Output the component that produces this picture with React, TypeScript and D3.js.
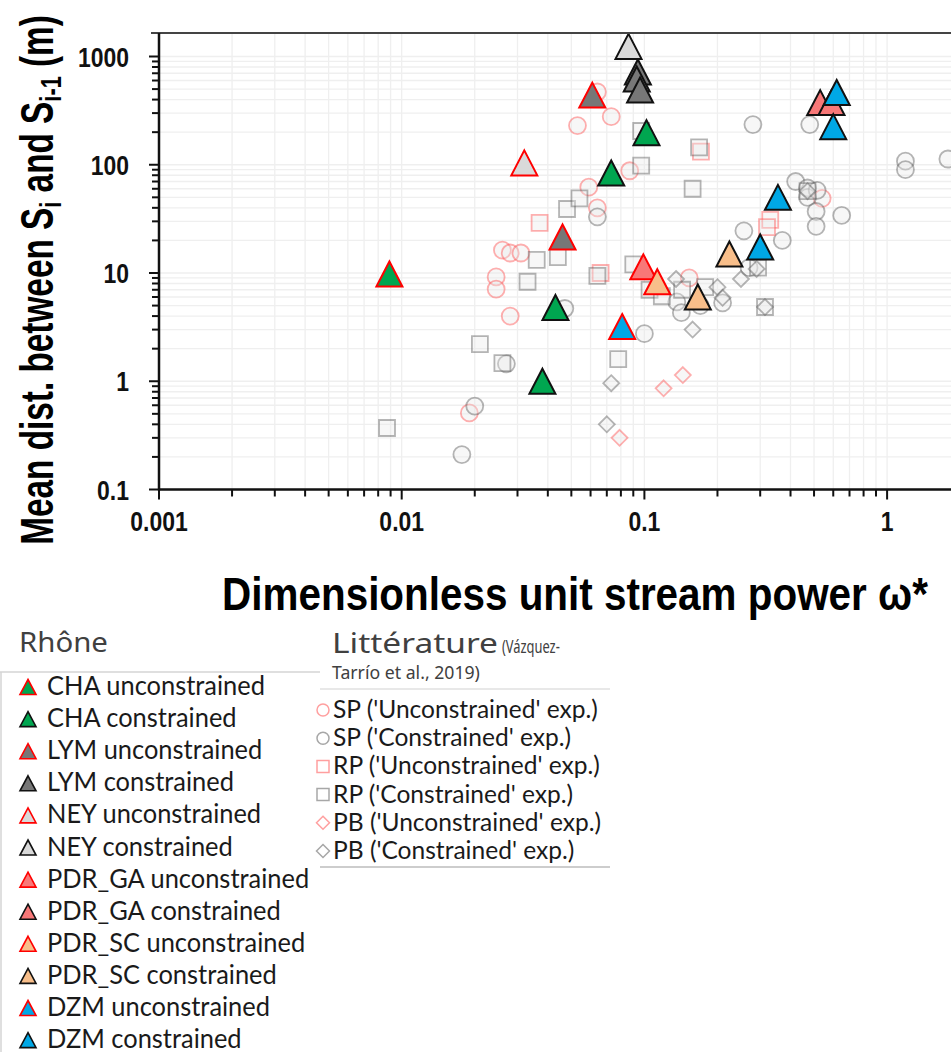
import { useEffect, useRef } from 'react';
import * as d3 from 'd3';

type Pt = [number, number];

// Rhône reaches, [omega*, mean distance (m)]
const CHA_unc: Pt[] = [[0.0089, 9.8]];
const CHA_con: Pt[] = [[0.102, 198], [0.073, 84], [0.043, 4.8], [0.038, 1.0]];
const LYM_unc: Pt[] = [[0.061, 440], [0.046, 21.5]];
const LYM_con: Pt[] = [[0.094, 720], [0.093, 620], [0.096, 490]];
const NEY_unc: Pt[] = [[0.032, 104]];
const NEY_con: Pt[] = [[0.086, 1240]];
const PDRGA_unc: Pt[] = [[0.099, 11.4]];
const PDRGA_con: Pt[] = [[0.53, 375], [0.59, 375]];
const PDRSC_unc: Pt[] = [[0.113, 8.3]];
const PDRSC_con: Pt[] = [[0.166, 6.0], [0.224, 15]];
const DZM_unc: Pt[] = [[0.081, 3.2]];
const DZM_con: Pt[] = [[0.62, 465], [0.6, 225], [0.355, 50], [0.3, 17.4]];

// Littérature (Vázquez-Tarrío et al., 2019)
const SP_unc: Pt[] = [
  [0.064, 470], [0.073, 278], [0.053, 230], [0.087, 88], [0.059, 62], [0.064, 40],
  [0.026, 16.3], [0.028, 15.3], [0.031, 15.3], [0.0245, 9.2], [0.0245, 7.1], [0.028, 4.0],
  [0.019, 0.51], [0.153, 9.0], [0.54, 49],
];
const SP_con: Pt[] = [
  [0.047, 4.7], [0.027, 1.45], [0.02, 0.59], [0.0177, 0.21], [0.1, 2.75], [0.064, 33],
  [0.28, 235], [0.48, 235], [1.19, 108], [1.19, 90], [1.78, 113], [0.42, 70],
  [0.47, 61], [0.47, 50], [0.515, 58], [0.51, 37], [0.65, 34], [0.51, 27],
  [0.257, 24.5], [0.37, 20], [0.136, 5.4], [0.142, 4.3], [0.21, 5.3], [0.17, 5.0], [0.27, 11.2],
];
const RP_unc: Pt[] = [[0.037, 29], [0.066, 10], [0.171, 132], [0.33, 31], [0.32, 26.5]];
const RP_con: Pt[] = [
  [0.0087, 0.37], [0.021, 2.2], [0.026, 1.47], [0.033, 8.3], [0.036, 13.2], [0.044, 14],
  [0.048, 39], [0.054, 49], [0.097, 98], [0.097, 205], [0.064, 9.4], [0.078, 1.6],
  [0.09, 12], [0.168, 145], [0.158, 60], [0.105, 7.0], [0.118, 6.1], [0.143, 7.0],
  [0.178, 7.4], [0.294, 11.2], [0.314, 4.85], [0.47, 57],
];
const PB_unc: Pt[] = [[0.12, 0.86], [0.144, 1.14], [0.079, 0.3]];
const PB_con: Pt[] = [
  [0.073, 0.96], [0.07, 0.4], [0.158, 3.0], [0.135, 8.8], [0.2, 7.4], [0.21, 5.9],
  [0.25, 8.8], [0.29, 10.9], [0.314, 4.85], [0.47, 57],
];

const xTicks = [0.001, 0.01, 0.1, 1];
const xTickLabels = ['0.001', '0.01', '0.1', '1'];
const yTicks = [0.1, 1, 10, 100, 1000];
const yTickLabels = ['0.1', '1', '10', '100', '1000'];

const RED = '#ff0000';
const rhone = [
  { label: 'CHA unconstrained', fill: '#00a650', stroke: RED, pts: CHA_unc },
  { label: 'CHA constrained', fill: '#00a650', stroke: '#111', pts: CHA_con },
  { label: 'LYM unconstrained', fill: '#777777', stroke: RED, pts: LYM_unc },
  { label: 'LYM constrained', fill: '#777777', stroke: '#111', pts: LYM_con },
  { label: 'NEY unconstrained', fill: '#d9d9d9', stroke: RED, pts: NEY_unc },
  { label: 'NEY constrained', fill: '#d9d9d9', stroke: '#111', pts: NEY_con },
  { label: 'PDR_GA unconstrained', fill: '#f87878', stroke: RED, pts: PDRGA_unc },
  { label: 'PDR_GA constrained', fill: '#f87878', stroke: '#111', pts: PDRGA_con },
  { label: 'PDR_SC unconstrained', fill: '#f8be8a', stroke: RED, pts: PDRSC_unc },
  { label: 'PDR_SC constrained', fill: '#f8be8a', stroke: '#111', pts: PDRSC_con },
  { label: 'DZM unconstrained', fill: '#00a8e6', stroke: RED, pts: DZM_unc },
  { label: 'DZM constrained', fill: '#00a8e6', stroke: '#111', pts: DZM_con },
];

const literature = [
  { label: "SP ('Unconstrained' exp.)", shape: 'circle', red: true, pts: SP_unc },
  { label: "SP ('Constrained' exp.)", shape: 'circle', red: false, pts: SP_con },
  { label: "RP ('Unconstrained' exp.)", shape: 'square', red: true, pts: RP_unc },
  { label: "RP ('Constrained' exp.)", shape: 'square', red: false, pts: RP_con },
  { label: "PB ('Unconstrained' exp.)", shape: 'diamond', red: true, pts: PB_unc },
  { label: "PB ('Constrained' exp.)", shape: 'diamond', red: false, pts: PB_con },
];

const W = 951;
const H = 1052;
const L = 159;
const R = 951;
const T = 33;
const B = 489.5;
const AX_FONT = "'Liberation Sans', Arial, sans-serif";
const LEG_FONT = "Lato, 'Open Sans', sans-serif";
const HEAD_FONT = "'Noto Sans', 'Open Sans', sans-serif";

function shapePath(shape: string, cx: number, cy: number, s: number) {
  if (shape === 'circle') {
    return `M${cx - s},${cy}a${s},${s} 0 1,0 ${2 * s},0a${s},${s} 0 1,0 ${-2 * s},0Z`;
  }
  if (shape === 'square') {
    return `M${cx - s},${cy - s}h${2 * s}v${2 * s}h${-2 * s}Z`;
  }
  return `M${cx},${cy - s}L${cx + s},${cy}L${cx},${cy + s}L${cx - s},${cy}Z`;
}

function triPath(cx: number, cy: number, w: number, h: number) {
  return `M${cx},${cy - h / 2}L${cx + w / 2},${cy + h / 2}L${cx - w / 2},${cy + h / 2}Z`;
}

export default function App() {
  const svgRef = useRef<SVGSVGElement | null>(null);

  useEffect(() => {
    if (!svgRef.current) return;
    const svg = d3.select(svgRef.current);
    svg.selectAll('*').remove();

    const x = d3.scaleLog().domain([0.001, 1]).range([L, L + 3 * 242.7]);
    const y = d3.scaleLog().domain([0.1, 1000]).range([B, B - 4 * 108.25]);

    const xMinor: { v: number; major: boolean }[] = [];
    for (let d = -3; d <= 0; d++)
      for (let k = 1; k <= 9; k++) {
        const v = k * Math.pow(10, d);
        if (x(v) <= R + 0.5) xMinor.push({ v, major: k === 1 });
      }
    const yMinor: { v: number; major: boolean }[] = [];
    for (let d = -1; d <= 3; d++)
      for (let k = 1; k <= 9; k++) {
        const v = k * Math.pow(10, d);
        if (y(v) >= T - 0.5) yMinor.push({ v, major: k === 1 });
      }

    const defs = svg.append('defs');
    defs
      .append('clipPath')
      .attr('id', 'plot-clip')
      .append('rect')
      .attr('x', L)
      .attr('y', T)
      .attr('width', R - L)
      .attr('height', B - T);

    // grid
    const grid = svg.append('g').attr('stroke', '#efefef').attr('stroke-width', 1.3);
    grid
      .selectAll('line.v')
      .data(xMinor)
      .enter()
      .append('line')
      .attr('x1', (d) => x(d.v))
      .attr('x2', (d) => x(d.v))
      .attr('y1', T)
      .attr('y2', B);
    grid
      .selectAll('line.h')
      .data(yMinor)
      .enter()
      .append('line')
      .attr('x1', L)
      .attr('x2', R)
      .attr('y1', (d) => y(d.v))
      .attr('y2', (d) => y(d.v));

    // literature markers
    const plot = svg.append('g').attr('clip-path', 'url(#plot-clip)');
    literature.forEach((s) => {
      plot
        .append('g')
        .selectAll('path')
        .data(s.pts)
        .enter()
        .append('path')
        .attr('d', (p) => shapePath(s.shape, x(p[0]), y(p[1]), s.shape === 'circle' ? 8.5 : 8))
        .attr('fill', 'rgba(232,232,232,0.35)')
        .attr('stroke', s.red ? 'rgba(255,80,80,0.45)' : 'rgba(80,80,80,0.42)')
        .attr('stroke-width', 1.8);
    });

    // Rhône triangles
    rhone.forEach((s) => {
      plot
        .append('g')
        .selectAll('path')
        .data(s.pts)
        .enter()
        .append('path')
        .attr('d', (p) => triPath(x(p[0]), y(p[1]), 26, 25))
        .attr('fill', s.fill)
        .attr('stroke', s.stroke)
        .attr('stroke-width', 2);
    });

    // axes
    svg
      .append('line')
      .attr('x1', 151)
      .attr('x2', W)
      .attr('y1', T)
      .attr('y2', T)
      .attr('stroke', '#444')
      .attr('stroke-width', 2);
    svg
      .append('line')
      .attr('x1', L)
      .attr('x2', L)
      .attr('y1', T)
      .attr('y2', B + 1)
      .attr('stroke', '#111')
      .attr('stroke-width', 2.5);
    svg
      .append('line')
      .attr('x1', L - 1)
      .attr('x2', W)
      .attr('y1', B)
      .attr('y2', B)
      .attr('stroke', '#111')
      .attr('stroke-width', 2.5);

    const ticks = svg.append('g').attr('stroke', '#111').attr('stroke-width', 2);
    ticks
      .selectAll('line.xt')
      .data(xMinor)
      .enter()
      .append('line')
      .attr('x1', (d) => x(d.v))
      .attr('x2', (d) => x(d.v))
      .attr('y1', B)
      .attr('y2', (d) => B + (d.major ? 10 : 7));
    ticks
      .selectAll('line.yt')
      .data(yMinor)
      .enter()
      .append('line')
      .attr('y1', (d) => y(d.v))
      .attr('y2', (d) => y(d.v))
      .attr('x1', L)
      .attr('x2', (d) => L - (d.major ? 10 : 7));

    // tick labels (narrow bold)
    xTicks.forEach((v, i) => {
      svg
        .append('g')
        .attr('transform', `translate(${x(v)},531) scale(0.82,1)`)
        .append('text')
        .attr('text-anchor', 'middle')
        .attr('font-family', AX_FONT)
        .attr('font-weight', 700)
        .attr('font-size', 28)
        .attr('fill', '#111')
        .text(xTickLabels[i]);
    });
    yTicks.forEach((v, i) => {
      svg
        .append('g')
        .attr('transform', `translate(129,${y(v) + 10}) scale(0.82,1)`)
        .append('text')
        .attr('text-anchor', 'end')
        .attr('font-family', AX_FONT)
        .attr('font-weight', 700)
        .attr('font-size', 28)
        .attr('fill', '#111')
        .text(yTickLabels[i]);
    });

    const fit = (g: d3.Selection<SVGGElement, unknown, null, undefined>, target: number, base: string) => {
      const t = g.select('text').node() as SVGTextElement;
      const w = t.getBBox().width || target;
      g.attr('transform', `${base} scale(${target / w},1)`);
    };

    // x title
    const xt = svg.append('g');
    xt.append('text')
      .attr('text-anchor', 'middle')
      .attr('font-family', AX_FONT)
      .attr('font-weight', 700)
      .attr('font-size', 46)
      .attr('fill', '#000')
      .text('Dimensionless unit stream power ω*');
    fit(xt, 706, 'translate(575,610)');

    // y title
    const yt = svg.append('g');
    const ytt = yt
      .append('text')
      .attr('text-anchor', 'middle')
      .attr('font-family', AX_FONT)
      .attr('font-weight', 700)
      .attr('font-size', 46)
      .attr('fill', '#000');
    ytt.append('tspan').text('Mean dist. between S');
    ytt.append('tspan').attr('font-size', 30).attr('dy', 8).text('i');
    ytt.append('tspan').attr('dy', -8).text(' and S');
    ytt.append('tspan').attr('font-size', 30).attr('dy', 8).text('i-1');
    ytt.append('tspan').attr('dy', -8).text(' (m)');
    fit(yt, 530, 'translate(53,280) rotate(-90)');

    // Rhône legend
    const rh = svg.append('g');
    const rhHead = rh.append('g');
    rhHead
      .append('text')
      .attr('font-family', HEAD_FONT)
      .attr('font-size', 28)
      .attr('fill', '#404040')
      .text('Rhône');
    fit(rhHead, 89, 'translate(19,652)');
    rh.append('line').attr('x1', 0).attr('x2', 320).attr('y1', 672).attr('y2', 672).attr('stroke', '#d4d4d4').attr('stroke-width', 1.5);
    rh.append('line').attr('x1', 1).attr('x2', 1).attr('y1', 672).attr('y2', H).attr('stroke', '#d4d4d4').attr('stroke-width', 1.5);

    let rhScale = 1;
    rhone.forEach((s, i) => {
      const cy = 687 + i * 32.1;
      rh.append('path')
        .attr('d', triPath(28, cy, 16, 15))
        .attr('fill', s.fill)
        .attr('stroke', s.stroke)
        .attr('stroke-width', 1.6);
      const g = rh.append('g');
      g.append('text')
        .attr('font-family', LEG_FONT)
        .attr('font-size', 27)
        .attr('fill', '#1a1a1a')
        .text(s.label);
      if (i === 0) {
        const w = (g.select('text').node() as SVGTextElement).getBBox().width || 218;
        rhScale = 218 / w;
      }
      g.attr('transform', `translate(47,${cy + 8}) scale(${rhScale},1)`);
    });

    // Littérature legend
    const lit = svg.append('g');
    const litHead = lit.append('g');
    litHead
      .append('text')
      .attr('font-family', HEAD_FONT)
      .attr('font-size', 28)
      .attr('fill', '#404040')
      .text('Littérature');
    fit(litHead, 166, 'translate(332,653)');
    const ref1 = lit.append('g');
    ref1
      .append('text')
      .attr('font-family', HEAD_FONT)
      .attr('font-size', 18)
      .attr('fill', '#404040')
      .text('(Vázquez-');
    fit(ref1, 58, 'translate(502,653)');
    const ref2 = lit.append('g');
    ref2
      .append('text')
      .attr('font-family', HEAD_FONT)
      .attr('font-size', 18)
      .attr('fill', '#404040')
      .text('Tarrío et al., 2019)');
    fit(ref2, 148, 'translate(332,679)');
    lit.append('line').attr('x1', 320).attr('x2', 610).attr('y1', 689).attr('y2', 689).attr('stroke', '#e0e0e0').attr('stroke-width', 1.5);
    lit.append('line').attr('x1', 320).attr('x2', 610).attr('y1', 867).attr('y2', 867).attr('stroke', '#bdbdbd').attr('stroke-width', 1.5);

    let litScale = 1;
    literature.forEach((s, i) => {
      const cy = 710 + i * 28.2;
      lit.append('path')
        .attr('d', shapePath(s.shape, 323, cy, s.shape === 'diamond' ? 6.5 : 6))
        .attr('fill', 'none')
        .attr('stroke', s.red ? 'rgba(255,80,80,0.55)' : 'rgba(80,80,80,0.5)')
        .attr('stroke-width', 1.5);
      const g = lit.append('g');
      g.append('text')
        .attr('font-family', LEG_FONT)
        .attr('font-size', 25)
        .attr('fill', '#1a1a1a')
        .text(s.label);
      if (i === 0) {
        const w = (g.select('text').node() as SVGTextElement).getBBox().width || 265;
        litScale = 265 / w;
      }
      g.attr('transform', `translate(333,${cy + 8}) scale(${litScale},1)`);
    });
  }, []);

  return (
    <svg
      ref={svgRef}
      width={W}
      height={H}
      style={{ position: 'absolute', left: 0, top: 0, background: '#fff', display: 'block' }}
    />
  );
}
